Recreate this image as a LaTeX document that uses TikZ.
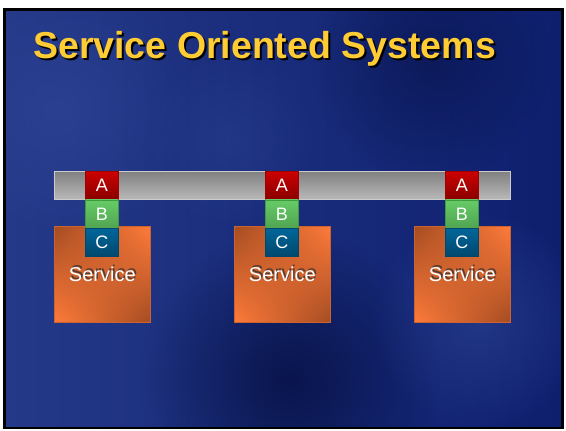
\documentclass[tikz,border=0pt]{standalone}
\usepackage{fontspec}
\setmainfont{Liberation Sans}
\usetikzlibrary{shadings,fadings}
\tikzfading[name=softblob, inner color=transparent!0, outer color=transparent!100]
\definecolor{bgA}{HTML}{0E1F6E}
\definecolor{bgB}{HTML}{2E4494}
\definecolor{bgC}{HTML}{050F40}
\definecolor{titleY}{HTML}{FFCC33}
\definecolor{redA}{HTML}{CC0000}
\definecolor{redD}{HTML}{8A0000}
\definecolor{greenB}{HTML}{66CC66}
\definecolor{greenD}{HTML}{3E9A3E}
\definecolor{blueC}{HTML}{006699}
\definecolor{blueD}{HTML}{00486E}
\definecolor{orgS}{HTML}{FF7B3A}
\definecolor{orgD}{HTML}{A44C22}
\tikzset{
  pin/.style={minimum width=33pt, minimum height=28pt, inner sep=0pt, text=white, font=\fontsize{18}{18}\selectfont},
  pinA/.style={pin, top color=redA, bottom color=redD, draw=redA!80!black, line width=0.6pt},
  pinB/.style={pin, top color=greenB, bottom color=greenD!90, draw=greenD, line width=0.6pt},
  pinC/.style={pin, top color=blueC, bottom color=blueD, draw=blueC!70!black, line width=0.6pt},
  svc/.style={minimum width=96pt, minimum height=96pt, inner sep=0pt, draw=orgS!80!black, line width=0.6pt,
    upper left=orgD, upper right=orgS, lower left=orgS, lower right=orgD},
  svclabel/.style={text=white, font=\fontsize{20}{20}\selectfont},
  blob/.style={path fading=softblob},
}
\begin{document}
\begin{tikzpicture}[x=1pt,y=-1pt]
\useasboundingbox (0,0) rectangle (566,431);
\fill[white] (0,0) rectangle (566,431);
% frame and background
\fill[black] (3,8) rectangle (564,429);
\begin{scope}
\clip (6,11) rectangle (561,426);
\shade[left color=bgB!70!bgA, right color=bgA] (6,11) rectangle (561,426);
\fill[bgB, blob, opacity=0.7] (60,110) circle[radius=130];
\fill[bgC, blob, opacity=0.8] (290,380) circle[radius=150];
\fill[bgB, blob, opacity=0.6] (480,320) circle[radius=110];
\fill[bgC, blob, opacity=0.5] (430,60) circle[radius=120];
\fill[bgB, blob, opacity=0.4] (230,140) circle[radius=90];
\end{scope}
% title
\node[anchor=base west, text=black, font=\bfseries\fontsize{37.5}{37.5}\selectfont, inner sep=0pt] at (35,60) {Service Oriented Systems};
\node[anchor=base west, text=titleY, font=\bfseries\fontsize{37.5}{37.5}\selectfont, inner sep=0pt] (title) at (33,58) {Service Oriented Systems};
% bus bar
\shade[top color=black!50, bottom color=black!28, draw=black!20, line width=0.6pt] (54,171) rectangle (510,199);
\coordinate (bus) at (282,185);
% services
\foreach \i/\x in {1/54, 2/234, 3/414} {
  \node[svc, anchor=north west] (s\i) at (\x,226) {};
  \node[svclabel, text=black!80, opacity=0.8] at ([xshift=1.5pt,yshift=1.5pt]s\i.center) {Service};
  \node[svclabel] (l\i) at (s\i.center) {Service};
  \node[pinA, anchor=north west] (a\i) at (\x+31,171) {A};
  \node[pinB, anchor=north] (b\i) at (a\i.south) {B};
  \node[pinC, anchor=north] (c\i) at (b\i.south) {C};
}
\end{tikzpicture}
\end{document}
